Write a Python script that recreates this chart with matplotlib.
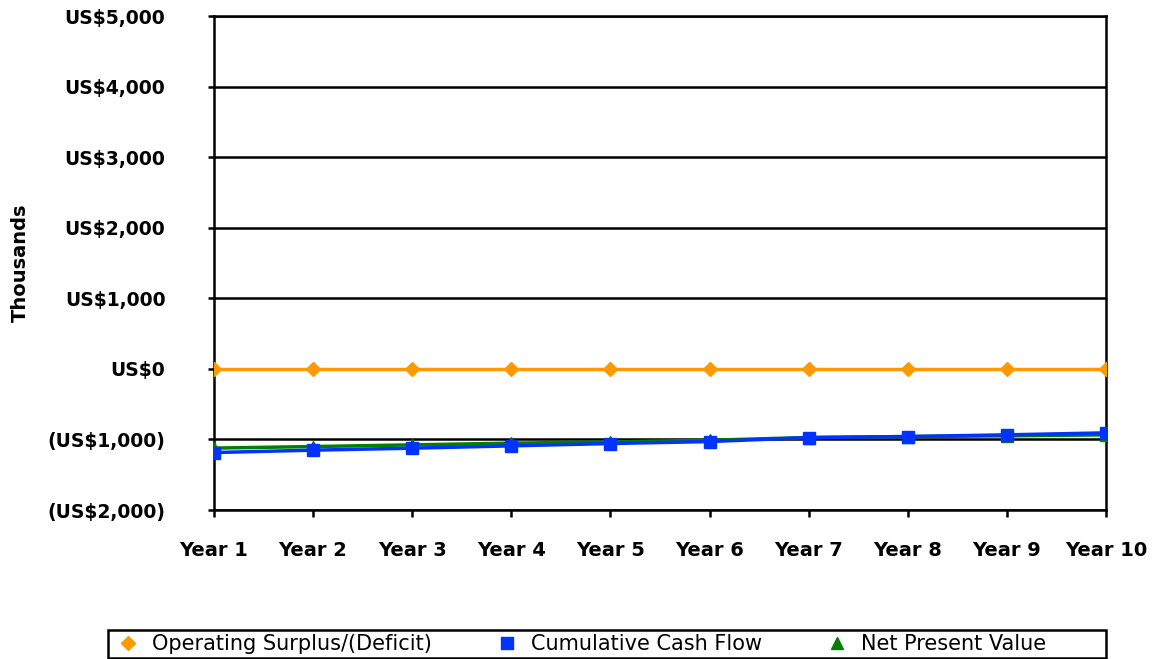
import matplotlib
matplotlib.use("Agg")
import matplotlib.pyplot as plt
from matplotlib.patches import Rectangle
from matplotlib.ticker import FuncFormatter

# Ten-year projection, values in US$ thousands
years = ["Year 1", "Year 2", "Year 3", "Year 4", "Year 5",
         "Year 6", "Year 7", "Year 8", "Year 9", "Year 10"]
operating_surplus = [0, 0, 0, 0, 0, 0, 0, 0, 0, 0]
cumulative_cash_flow = [-1186, -1152, -1124, -1091, -1058, -1030, -974, -959, -935, -907]
net_present_value = [-1123, -1101, -1077, -1053, -1034, -1011, -973, -959, -949, -935]


def money(v, pos):
    if v < 0:
        return f"(US${-v:,.0f})"
    return f"US${v:,.0f}"


fig = plt.figure(figsize=(11.53, 6.59), dpi=100)
ax = fig.add_axes([0.1856, 0.2261, 0.7736, 0.7496])

x = list(range(len(years)))
ax.plot(x, operating_surplus, color="#ff9900", lw=2.5, marker="D", ms=7.5,
        label="Operating Surplus/(Deficit)", zorder=3)
ax.plot(x, net_present_value, color="#008000", lw=2.5, marker="^", ms=9,
        label="Net Present Value", zorder=4)
ax.plot(x, cumulative_cash_flow, color="#0033ff", lw=2.5, marker="s", ms=9,
        label="Cumulative Cash Flow", zorder=5)

ax.set_xlim(0, len(years) - 1)
ax.set_ylim(-2000, 5000)
ax.set_yticks(range(-2000, 5001, 1000))
ax.yaxis.set_major_formatter(FuncFormatter(money))
ax.set_xticks(x)
ax.set_xticklabels(years)
ax.grid(axis="y", color="black", lw=1.8)
ax.set_axisbelow(True)

for s in ax.spines.values():
    s.set_color("black")
    s.set_linewidth(1.8)

ax.tick_params(axis="y", direction="out", length=4, width=1.8, pad=31)
ax.tick_params(axis="x", direction="out", length=5, width=1.8, pad=17)
for lbl in ax.get_yticklabels():
    lbl.set_fontweight("bold")
    lbl.set_fontsize(13.5)
for lbl in ax.get_xticklabels():
    lbl.set_fontweight("bold")
    lbl.set_fontsize(14)

ax.set_ylabel("Thousands", fontsize=14, fontweight="bold")
ax.yaxis.set_label_coords(-0.206, 0.5)

# legend entries in a fixed-width box under the chart
handles, labels = ax.get_legend_handles_labels()
order = [0, 2, 1]
leg = fig.legend([handles[i] for i in order], [labels[i] for i in order],
                 loc="center left", bbox_to_anchor=(0.102, 0.0228),
                 ncol=3, frameon=False, prop={"size": 15},
                 handlelength=1.0, handletextpad=0.65, columnspacing=3.1,
                 borderpad=0, borderaxespad=0)
for line in leg.get_lines():
    line.set_linestyle("none")
fig.add_artist(Rectangle((0.0937, 0.0015), 0.8655, 0.0425, transform=fig.transFigure,
                         fill=False, edgecolor="black", lw=1.8))

fig.savefig("out.png", dpi=100)
